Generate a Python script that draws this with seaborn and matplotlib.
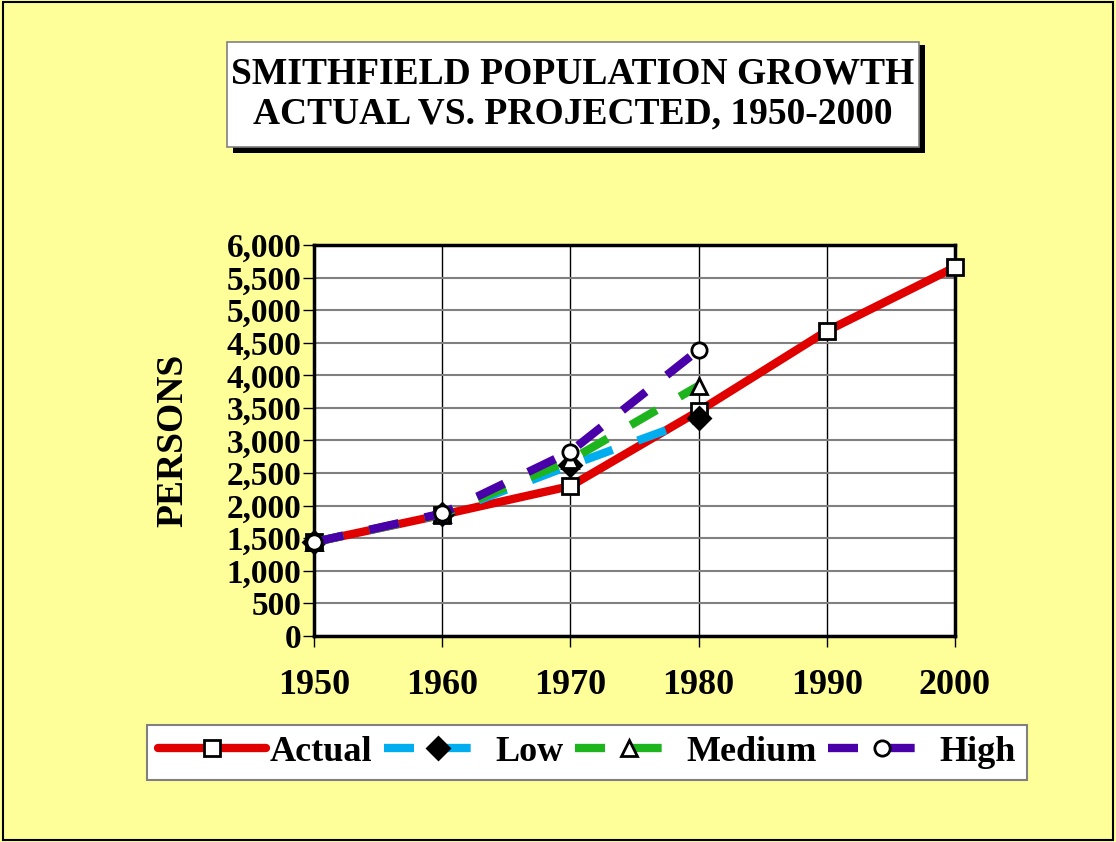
import matplotlib
matplotlib.use("Agg")
import matplotlib.pyplot as plt
import seaborn as sns
import pandas as pd
from matplotlib.patches import Rectangle

# data
years_actual = [1950, 1960, 1970, 1980, 1990, 2000]
actual = [1440, 1860, 2300, 3450, 4680, 5660]
years_proj = [1950, 1960, 1970, 1980]
low = [1440, 1870, 2620, 3340]
medium = [1440, 1870, 2700, 3840]
high = [1440, 1880, 2830, 4390]

x_ticks = [1950, 1960, 1970, 1980, 1990, 2000]
y_ticks = list(range(0, 6001, 500))

sns.set_theme(style="white")
plt.rcParams["font.family"] = ["Liberation Serif", "DejaVu Serif"]
plt.rcParams["font.weight"] = "bold"
plt.rcParams["text.color"] = "black"
plt.rcParams["xtick.color"] = "black"
plt.rcParams["ytick.color"] = "black"
plt.rcParams["axes.labelcolor"] = "black"

bg = "#FFFF99"
fig = plt.figure(figsize=(11.16, 8.42), dpi=100, facecolor=bg)
ax = fig.add_axes([0.2814, 0.2447, 0.5743, 0.4643])
ax.set_facecolor("white")

df_a = pd.DataFrame({"year": years_actual, "val": actual})
sns.lineplot(data=df_a, x="year", y="val", ax=ax, color="#E00000", lw=6,
             marker="s", markersize=11, markerfacecolor="white",
             markeredgecolor="black", markeredgewidth=2, label="Actual", zorder=3)

styles = [
    ("Low", low, "#00AEEF", "D", "black"),
    ("Medium", medium, "#1EB41E", "^", "white"),
    ("High", high, "#4A00A8", "o", "white"),
]
for name, vals, col, mk, mfc in styles:
    d = pd.DataFrame({"year": years_proj, "val": vals})
    sns.lineplot(data=d, x="year", y="val", ax=ax, color=col, lw=6,
                 dashes=False, marker=mk, markersize=11, markerfacecolor=mfc,
                 markeredgecolor="black", markeredgewidth=2, label=name, zorder=4)
    ax.lines[-1].set_dashes([3.6, 3.2])
    ax.lines[-1].set_dash_capstyle("butt")

ax.set_xlim(1950, 2000)
ax.set_ylim(0, 6000)
ax.set_xticks(x_ticks)
ax.set_yticks(y_ticks)
ax.set_yticklabels([f"{v:,}" for v in y_ticks])
ax.grid(axis="y", color="#808080", lw=1.5)
ax.grid(axis="x", color="black", lw=1)
ax.set_axisbelow(True)
for s in ax.spines.values():
    s.set_color("black")
    s.set_linewidth(2.5)
ax.tick_params(axis="both", which="both", direction="out", length=8, width=1,
               color="black", bottom=True, left=True)
ax.tick_params(axis="x", pad=16, labelsize=26)
ax.tick_params(axis="y", pad=1, labelsize=24)
for lab in ax.get_xticklabels() + ax.get_yticklabels():
    lab.set_fontweight("bold")
ax.set_xlabel("")
ax.set_ylabel("PERSONS", fontsize=27, fontweight="bold", labelpad=26)
for ln in ax.lines:
    ln.set_clip_on(False)

leg = ax.legend(loc="center", bbox_to_anchor=(0.426, -0.297), ncol=4,
                frameon=True, fancybox=False, fontsize=26, handlelength=3.0,
                handletextpad=0.1, columnspacing=0.3, borderpad=0.3,
                framealpha=1)
leg.get_frame().set_edgecolor("#808080")
leg.get_frame().set_linewidth(1.5)
leg.get_frame().set_facecolor("white")
for t in leg.get_texts():
    t.set_fontweight("bold")

# title box with shadow
fig.patches.append(Rectangle((233 / 1116, 1 - 153 / 842), 692 / 1116, 108 / 842,
                             transform=fig.transFigure, facecolor="black",
                             edgecolor="none", zorder=1))
fig.patches.append(Rectangle((227 / 1116, 1 - 147 / 842), 692 / 1116, 105 / 842,
                             transform=fig.transFigure, facecolor="white",
                             edgecolor="#808080", lw=1.2, zorder=2))
fig.text(573 / 1116, 1 - 94 / 842,
         "SMITHFIELD POPULATION GROWTH\nACTUAL VS. PROJECTED, 1950-2000",
         ha="center", va="center", fontsize=27, fontweight="bold",
         linespacing=1.2, zorder=3)

# outer border
fig.patches.append(Rectangle((0.003, 0.002), 0.994, 0.996, transform=fig.transFigure,
                             facecolor="none", edgecolor="black", lw=1.5, zorder=0))

fig.savefig("out.png", dpi=100, facecolor=bg)
